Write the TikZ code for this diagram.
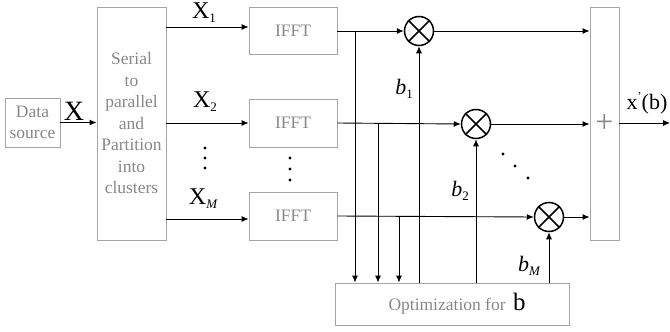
\documentclass[tikz,border=0pt]{standalone}
\usepackage{fontspec}
\setmainfont{Liberation Serif}
\usetikzlibrary{arrows.meta,calc}
\definecolor{boxgray}{RGB}{165,165,165}
\definecolor{txtgray}{RGB}{135,135,135}
\newcommand{\subsc}[1]{\raisebox{-0.35ex}{\fontsize{13}{13}\selectfont #1}}
\tikzset{
  gbox/.style={draw=boxgray, line width=0.9pt, text=txtgray, align=center, inner sep=0pt,
    font=\rmfamily\fontsize{17.5}{21.5}\selectfont},
  mult/.style={draw, circle, line width=1.5pt, minimum size=29pt, inner sep=0pt},
  arr/.style={-{Latex[length=7pt,width=6pt]}, line width=0.9pt},
  lbl/.style={inner sep=0pt, font=\rmfamily\fontsize{24}{24}\selectfont},
  blbl/.style={inner sep=0pt, font=\rmfamily\fontsize{22}{22}\selectfont},
  dotnode/.style={circle, fill, inner sep=0pt, minimum size=3.2pt}
}
\begin{document}
\begin{tikzpicture}[x=1pt,y=-1pt]
\useasboundingbox (0,0) rectangle (670,332);
% boxes
\node[gbox, minimum width=55pt, minimum height=49pt] (data) at (32.5,122.5) {Data\\source};
\node[gbox, minimum width=69pt, minimum height=233pt] (sp) at (131.5,123.5) {Serial\\to\\parallel\\and\\Partition\\into\\clusters};
\node[gbox, minimum width=88pt, minimum height=47pt] (f1) at (293,30.5) {IFFT};
\node[gbox, minimum width=88pt, minimum height=48pt] (f2) at (293,123) {IFFT};
\node[gbox, minimum width=88pt, minimum height=48pt] (f3) at (293,216) {IFFT};
\node[gbox, minimum width=29pt, minimum height=233pt, font=\rmfamily\fontsize{32}{32}\selectfont] (sum) at (604.5,123.5) {+};
\node[gbox, minimum width=234pt, minimum height=42pt] (opt) at (452,304) {\hspace*{10pt}Optimization for \hspace{3pt}{\color{black}\fontsize{25}{25}\selectfont b}};
% multipliers
\node[mult] (m1) at (419,31) {};
\node[mult] (m2) at (476,124) {};
\node[mult] (m3) at (549,217) {};
\foreach \m in {m1,m2,m3}{
  \draw[line width=1.5pt] (\m.north west) -- (\m.south east);
  \draw[line width=1.5pt] (\m.north east) -- (\m.south west);
}
% data -> sp
\draw[arr] (data.east) -- (data.east -| sp.west);
% sp -> ifft
\draw[arr] (sp.east |- 0,27) -- (f1.west |- 0,27);
\draw[arr] (sp.east |- 0,123) -- (f2.west |- 0,123);
\draw[arr] (sp.east |- 0,219) -- (f3.west |- 0,219);
% ifft -> mult
\draw[arr] (f1.east |- m1) -- (m1.west);
\draw[arr] (f2.east) -- (m2.west);
\draw[arr] (f3.east) -- (m3.west);
% mult -> sum
\draw[arr] (m1.east) -- (m1 -| sum.west);
\draw[arr] (m2.east) -- (m2 -| sum.west);
\draw[arr] (m3.east) -- (m3 -| sum.west);
% output
\coordinate (out) at (670,123);
\draw[arr] (sum.east |- out) -- (out);
% taps
\coordinate (t1) at (355,31);
\coordinate (t2) at (378,123.3);
\coordinate (t3) at (399,217);
\foreach \t in {t1,t2,t3}{\draw[arr] (\t) -- (\t |- opt.north);}
% b lines
\draw[arr] (opt.north -| m1) -- (m1.south);
\draw[arr] (opt.north -| m2) -- (m2.south);
\draw[arr] (opt.north -| m3) -- (m3.south);
% labels
\node[lbl, font=\rmfamily\fontsize{28}{28}\selectfont] (lx) at (74,111) {X};
\node[lbl] (lx1) at (204,13) {X\subsc{1}};
\node[lbl] (lx2) at (205,102) {X\subsc{2}};
\node[lbl] (lxm) at (203,199) {X\subsc{\itshape M}};
\node[blbl] (lb1) at (404,89) {\itshape b\subsc{\upshape 1}};
\node[blbl] (lb2) at (460,191) {\itshape b\subsc{\upshape 2}};
\node[blbl] (lbm) at (529,266) {\itshape b\subsc{M}};
\node[blbl] (lout) at (647,103) {x\raisebox{0.9ex}{\fontsize{12}{12}\selectfont '}(b)};
% dots
\foreach \y [count=\i] in {148,158,168}{\node[dotnode] (va\i) at (205,\y) {};}
\foreach \y [count=\i] in {158,169,180}{\node[dotnode] (vb\i) at (290,\y) {};}
\node[dotnode] (d1) at (503,154) {};
\node[dotnode] (d2) at (515,166) {};
\node[dotnode] (d3) at (528,178) {};
\end{tikzpicture}
\end{document}
